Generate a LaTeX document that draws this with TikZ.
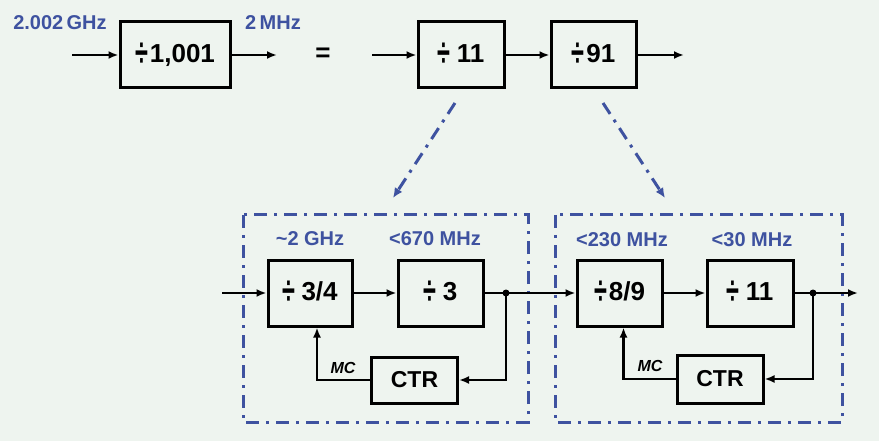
\documentclass[tikz,border=0pt]{standalone}
\usepackage{fontspec}
\setmainfont{Liberation Sans}
\usepackage{graphicx}
\usetikzlibrary{arrows.meta,positioning,calc}
\definecolor{bgcol}{RGB}{238,244,239}
\definecolor{freqblue}{RGB}{62,82,160}
% tall division sign as in the slide
\newcommand{\dvd}{\raisebox{-4pt}{\scalebox{0.9}[1.55]{÷}}\kern2pt}

\begin{document}
\begin{tikzpicture}[x=1pt,y=-1pt,
  blk/.style={draw,line width=3pt,minimum width=#1,minimum height=66pt,inner sep=0pt,
    font=\fontsize{26}{28}\selectfont\bfseries},
  blk/.default=86pt,
  ctrbox/.style={draw,line width=3pt,minimum width=86pt,minimum height=47pt,inner sep=0pt,
    font=\fontsize{23}{25}\selectfont\bfseries},
  sig/.style={line width=2.8pt,-{Latex[length=10pt,width=8pt]}},
  wire/.style={line width=2.8pt},
  freq/.style={text=freqblue,font=\fontsize{20}{22}\selectfont\bfseries},
  mclab/.style={font=\fontsize{16}{18}\selectfont\bfseries\itshape},
  ddot/.style={freqblue,line width=3pt,dash pattern=on 13pt off 7pt on 3pt off 7pt}]
% background and page size
\fill[bgcol] (0,0) rectangle (879,441);
\useasboundingbox (0,0) rectangle (879,441);

% Top row: divide by 1,001 = divide by 11 and by 91
\node[freq] (fin) at (60,23) {2.002\,GHz};
\node[freq] (fout) at (273,23) {2\,MHz};
\coordinate (tin) at (72,55);
\node[blk=110pt] (d1001) at (175,55) {\dvd1,001};
\coordinate (tout) at (277,55);
\node[font=\fontsize{26}{28}\selectfont\bfseries] (eq) at (323,55) {=};
\coordinate (tin2) at (372,55);
\node[blk] (d11) at (461,55) {\dvd\,11};
\node[blk=85pt] (d91) at (593.5,55) {\dvd91};
\coordinate (tout2) at (684,55);

\draw[sig] (tin) -- (d1001);
\draw[sig] (d1001) -- (tout);
\draw[sig] (tin2) -- (d11);
\draw[sig] (d11) -- (d91);
\draw[sig] (d91) -- (tout2);

% Dash-dot pointers to the two stages
\coordinate (p1a) at (455,103);
\coordinate (p1b) at (393,198);
\coordinate (p2a) at (603,103);
\coordinate (p2b) at (665,198);
\draw[ddot,-{Latex[length=10pt,width=9pt]}] (p1a) -- (p1b);
\draw[ddot,-{Latex[length=10pt,width=9pt]}] (p2a) -- (p2b);

% Stage 1: divide by 11
\coordinate (g1a) at (243,215);
\coordinate (g1b) at (528,422);
\draw[ddot] (g1a) rectangle (g1b);
\node[freq] (f1) at (310,239) {\textasciitilde2 GHz};
\node[freq] (f2) at (435,239) {<670 MHz};
\node[blk=84pt] (d34) at (310,293) {\dvd\,3/4};
\node[blk=85pt] (d3) at (440.5,293) {\dvd\,3};
\node[ctrbox,minimum height=46pt] (ctr1) at (414.5,380) {CTR};
\node[mclab] (mc1) at (343,368) {MC};
\coordinate (lin) at (222,293);
\coordinate (j1) at (506,293);

\draw[sig] (lin) -- (d34);
\draw[sig] (d34) -- (d3);
\draw[wire] (d3) -- (j1);
\fill (j1) circle (3.5pt);
\draw[sig] (j1) |- (ctr1.east);
\draw[sig] (ctr1.west) -| ($(d34.south)+(7,0)$);

% Stage 2: divide by 91
\coordinate (g2a) at (555,215);
\coordinate (g2b) at (842,422);
\draw[ddot] (g2a) rectangle (g2b);
\node[freq] (f3) at (622,240) {<230 MHz};
\node[freq] (f4) at (752,240) {<30 MHz};
\node[blk=85pt] (d89) at (619.5,293) {\dvd8/9};
\node[blk] (d11b) at (750,293) {\dvd\,11};
\node[ctrbox,minimum height=48pt] (ctr2) at (720,379) {CTR};
\node[mclab] (mc2) at (650,366) {MC};
\coordinate (j2) at (813,293);
\coordinate (rout) at (858,293);

\draw[sig] (j1) -- (d89);
\draw[sig] (d89) -- (d11b);
\draw[wire] (d11b) -- (j2);
\fill (j2) circle (3.5pt);
\draw[sig] (j2) -- (rout);
\draw[sig] (j2) |- (ctr2.east);
\draw[sig] (ctr2.west) -| ($(d89.south)+(4,0)$);
\end{tikzpicture}
\end{document}
